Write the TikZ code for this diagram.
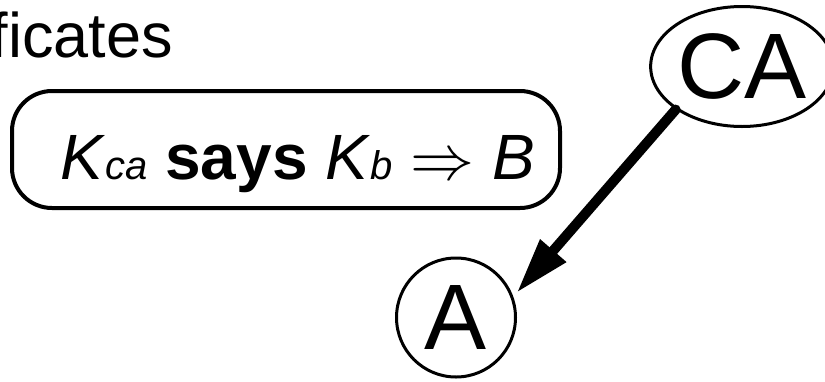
\documentclass[tikz,border=0pt]{standalone}
\usepackage{fix-cm}
\usepackage{fontspec}
\setmainfont{Liberation Sans}
\usetikzlibrary{arrows.meta,shapes.geometric}
\begin{document}
\begin{tikzpicture}[x=1pt,y=-1pt,
  certbox/.style={draw, line width=4pt, rounded corners=40pt, minimum width=548pt, minimum height=117pt, inner sep=0pt},
  ellnode/.style={ellipse, draw, line width=3pt, minimum width=157pt, minimum height=120pt, inner sep=0pt, font=\fontsize{93}{93}\selectfont},
  circnode/.style={circle, draw, line width=3pt, minimum size=119pt, inner sep=0pt, font=\fontsize{93}{93}\selectfont},
  bigarrow/.style={line width=10pt, line cap=round, -{Triangle[length=56pt,width=32pt]}, shorten >=5pt}
]
\useasboundingbox (0,0) rectangle (825,381);
\node[anchor=base east, inner sep=0pt, font=\fontsize{63}{63}\selectfont] (title) at (173,57) {ficates};
\node[certbox] (cert) at (286,149.5) {};
\node[anchor=base west, inner sep=0pt, font=\fontsize{64}{64}\selectfont] (stmt) at (60,179)
  {\textit{K}{\fontsize{40}{40}\selectfont\itshape ca} \textbf{says} \textit{K}{\fontsize{40}{40}\selectfont\itshape b} $\Rightarrow$ \textit{B}};
\node[ellnode] (CA) at (742,66.5) {CA};
\node[circnode] (A) at (456,317.5) {A};
\draw[bigarrow] (CA.213) -- (A.20);
\end{tikzpicture}
\end{document}
